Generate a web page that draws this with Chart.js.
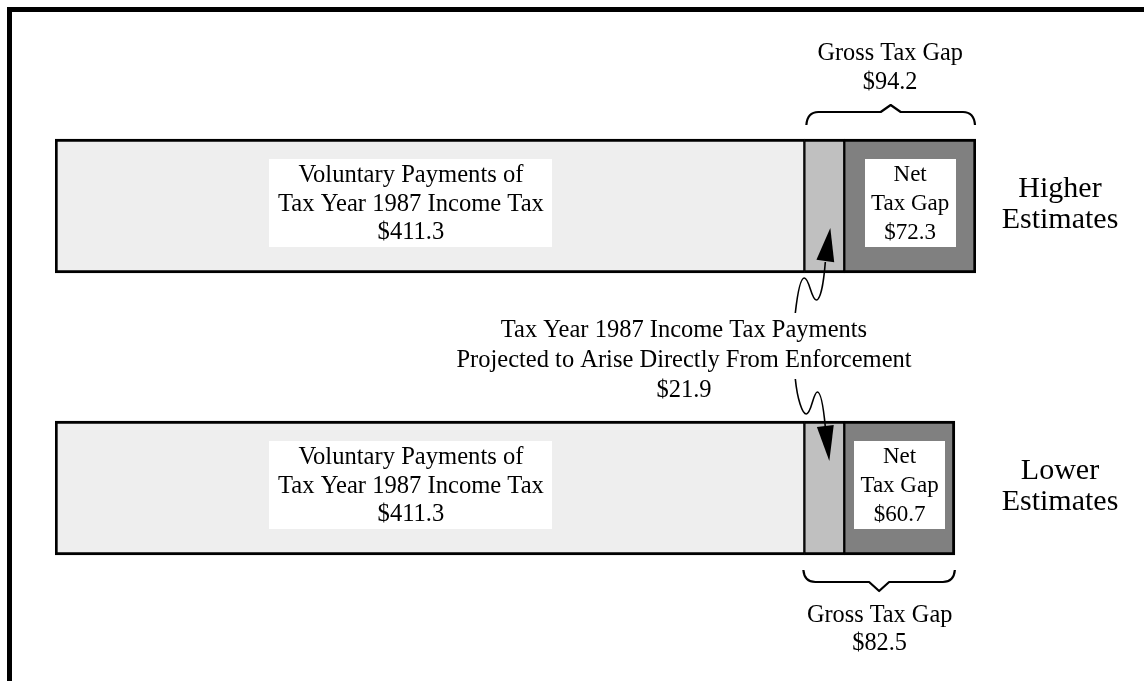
<!DOCTYPE html>
<html>
<head>
<meta charset="utf-8">
<script src="https://cdn.jsdelivr.net/npm/chart.js@4.4.0/dist/chart.umd.min.js"></script>
<style>
html,body{margin:0;padding:0;background:#fff;}
#wrap{width:1144px;height:681px;position:relative;}
</style>
</head>
<body>
<div id="wrap"><canvas id="c" width="1144" height="681"></canvas></div>
<script>
// ---- data (billions of dollars) ----
const categories = ['Higher Estimates', 'Lower Estimates'];
const voluntaryPayments = [411.3, 411.3];
const enforcementPayments = [21.9, 21.9];
const netTaxGap = [72.3, 60.7];
const grossTaxGap = [94.2, 82.5];
const voluntaryLabel = ['Voluntary Payments of', 'Tax Year 1987 Income Tax'];
const netLabel = ['Net', 'Tax Gap'];
const grossLabel = 'Gross Tax Gap';
const enforcementLabel = ['Tax Year 1987 Income Tax Payments', 'Projected to Arise Directly From Enforcement'];

const SERIF = '"Liberation Serif", "Times New Roman", Times, serif';
const BAR = 134;

function money(v){ return '$' + v.toFixed(1); }

function drawLines(ctx, arr, cx, ys, size){
  ctx.save();
  ctx.font = size + 'px ' + SERIF;
  ctx.fillStyle = '#000';
  ctx.textAlign = 'center';
  ctx.textBaseline = 'alphabetic';
  arr.forEach((t, k) => ctx.fillText(t, cx, ys[k]));
  ctx.restore();
}
function whiteBox(ctx, cx, cy, w, h){
  ctx.save();
  ctx.fillStyle = '#fff';
  ctx.fillRect(Math.round(cx - w/2), Math.round(cy - h/2), w, h);
  ctx.restore();
}
function brace(ctx, xa, xb, yEnd, yArm, yPeak){
  const mid = (xa + xb) / 2;
  ctx.save();
  ctx.strokeStyle = '#000';
  ctx.lineWidth = 2.2;
  ctx.lineJoin = 'round';
  ctx.beginPath();
  ctx.moveTo(xa, yEnd);
  ctx.quadraticCurveTo(xa + 1, yArm, xa + 12, yArm);
  ctx.lineTo(mid - 10, yArm);
  ctx.lineTo(mid, yPeak);
  ctx.lineTo(mid + 10, yArm);
  ctx.lineTo(xb - 12, yArm);
  ctx.quadraticCurveTo(xb - 1, yArm, xb, yEnd);
  ctx.stroke();
  ctx.restore();
}
function arrowHead(ctx, bx, by, tx, ty, hw){
  const dx = tx - bx, dy = ty - by, L = Math.hypot(dx, dy);
  const px = -dy / L * hw, py = dx / L * hw;
  ctx.beginPath();
  ctx.moveTo(tx, ty);
  ctx.lineTo(bx + px, by + py);
  ctx.lineTo(bx - px, by - py);
  ctx.closePath();
  ctx.fill();
}

const annot = {
  id: 'annot',
  beforeDraw(chart){
    const ctx = chart.ctx;
    ctx.save();
    ctx.fillStyle = '#fff';
    ctx.fillRect(0, 0, chart.width, chart.height);
    ctx.fillStyle = '#000';
    ctx.fillRect(7, 7, 5, chart.height - 7);
    ctx.fillRect(7, 7, chart.width - 7, 5);
    ctx.restore();
  },
  afterDatasetsDraw(chart){
    const ctx = chart.ctx, xs = chart.scales.x, ys = chart.scales.y, ca = chart.chartArea;
    const half = BAR / 2;
    const rows = [];
    categories.forEach((cat, i) => {
      const yc = ys.getPixelForValue(i);
      const top = yc - half, bot = yc + half;
      const x0 = xs.getPixelForValue(0);
      const x1 = xs.getPixelForValue(voluntaryPayments[i]);
      const x2 = xs.getPixelForValue(voluntaryPayments[i] + enforcementPayments[i]);
      const x3 = xs.getPixelForValue(voluntaryPayments[i] + enforcementPayments[i] + netTaxGap[i]);
      rows.push({yc, top, bot, x1, x2, x3});

      // voluntary label box
      const vcx = x0 + 0.475 * (x1 - x0);
      whiteBox(ctx, vcx, yc - 3, 283, 88);
      drawLines(ctx, [...voluntaryLabel, money(voluntaryPayments[i])], vcx, [yc - 24, yc + 4.5, yc + 33], 24.6);

      // net tax gap box
      const ncx = (x2 + x3) / 2;
      whiteBox(ctx, ncx, yc - 3, 91, 88);
      drawLines(ctx, [...netLabel, money(netTaxGap[i])], ncx, [yc - 25, yc + 4, yc + 33], 23);

      // row label at right
      const parts = cat.split(' ');
      drawLines(ctx, parts, ca.right + 84, [yc - 9, yc + 21.5], 30);

      // gross tax gap brace + label
      const gcx = (x1 + x3) / 2;
      if (i === 0){
        brace(ctx, x1 + 2, x3 - 1, top - 14, top - 27, top - 34);
        drawLines(ctx, [grossLabel, money(grossTaxGap[i])], gcx, [top - 79, top - 50], 24.3);
      } else {
        brace(ctx, x1 - 1, x3, bot + 15, bot + 27, bot + 36);
        drawLines(ctx, [grossLabel, money(grossTaxGap[i])], gcx, [bot + 67, bot + 95], 24.3);
      }
    });

    // enforcement caption in the middle
    const ym = (rows[0].yc + rows[1].yc) / 2;
    drawLines(ctx, [...enforcementLabel, money(enforcementPayments[0])], ca.left + 629, [ym - 10, ym + 20, ym + 50], 24.5);

    // squiggly arrows
    ctx.save();
    ctx.strokeStyle = '#000';
    ctx.fillStyle = '#000';
    ctx.lineWidth = 1.6;
    {
      const em = (rows[0].x1 + rows[0].x2) / 2 + 1.5, b = rows[0].bot;
      ctx.beginPath();
      ctx.moveTo(em - 30.5, b + 40);
      ctx.bezierCurveTo(em - 28.5, b + 22, em - 25.5, b + 5, em - 21.5, b + 5);
      ctx.bezierCurveTo(em - 16.5, b + 5, em - 14.5, b + 27, em - 9.5, b + 27);
      ctx.bezierCurveTo(em - 5, b + 27, em - 2, b + 8, em - 0.5, b - 11);
      ctx.stroke();
      arrowHead(ctx, em - 0.5, b - 12, em + 4.5, b - 45, 9);
    }
    {
      const em = (rows[1].x1 + rows[1].x2) / 2 + 1.5, t = rows[1].top;
      ctx.beginPath();
      ctx.moveTo(em - 30.5, t - 42);
      ctx.bezierCurveTo(em - 28.5, t - 22, em - 23.5, t - 7, em - 19.5, t - 7);
      ctx.bezierCurveTo(em - 14.5, t - 7, em - 12.5, t - 29, em - 8.5, t - 29);
      ctx.bezierCurveTo(em - 4.5, t - 29, em - 2, t - 10, em - 0.5, t + 6);
      ctx.stroke();
      arrowHead(ctx, em - 0.5, t + 5, em + 3.5, t + 40, 8.5);
    }
    ctx.restore();
  }
};

const common = {
  borderColor: '#000',
  borderSkipped: false,
  barThickness: BAR
};

new Chart(document.getElementById('c'), {
  type: 'bar',
  data: {
    labels: categories,
    datasets: [
      Object.assign({ label: 'Voluntary payments', data: voluntaryPayments, backgroundColor: '#eeeeee',
        borderWidth: {top: 3, bottom: 3, left: 3, right: 1.5} }, common),
      Object.assign({ label: 'Payments from enforcement', data: enforcementPayments, backgroundColor: '#c0c0c0',
        borderWidth: {top: 3, bottom: 3, left: 1.5, right: 1.5} }, common),
      Object.assign({ label: 'Net tax gap', data: netTaxGap, backgroundColor: '#808080',
        borderWidth: {top: 3, bottom: 3, left: 1.5, right: 3} }, common)
    ]
  },
  options: {
    indexAxis: 'y',
    responsive: false,
    animation: false,
    events: [],
    layout: { padding: { left: 55, right: 168, top: 65, bottom: 52 } },
    scales: {
      x: { stacked: true, min: 0, max: 505.5, display: false },
      y: { stacked: true, display: false }
    },
    plugins: { legend: { display: false }, tooltip: { enabled: false } }
  },
  plugins: [annot]
});
</script>
</body>
</html>
